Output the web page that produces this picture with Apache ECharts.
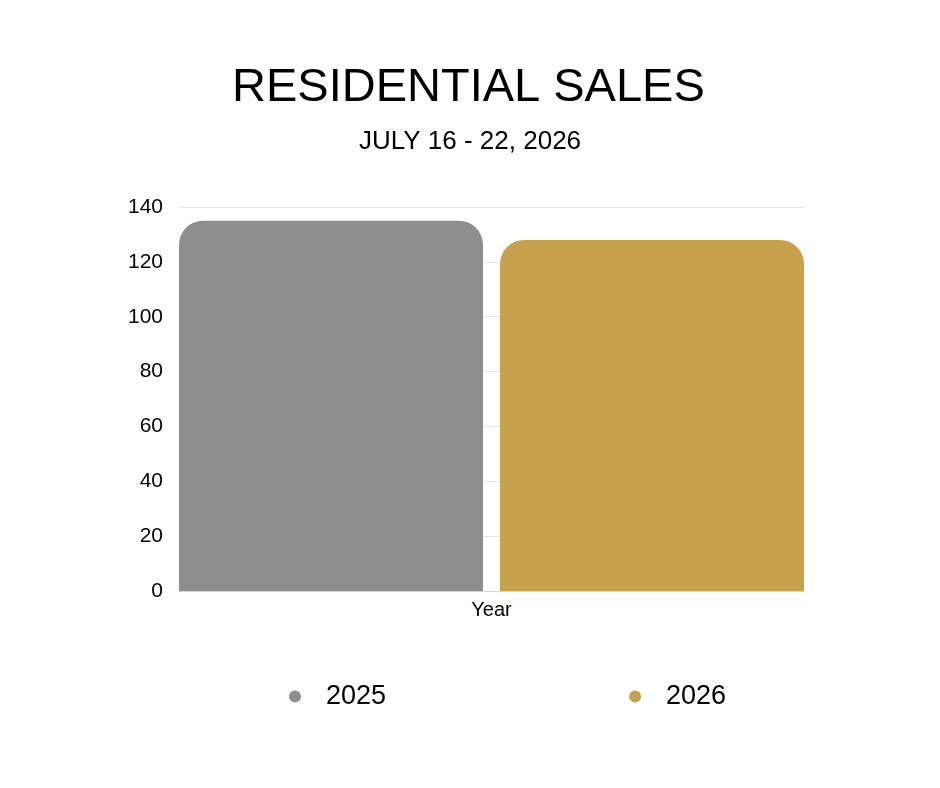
<!DOCTYPE html>
<html>
<head>
<meta charset="utf-8">
<script src="https://cdn.jsdelivr.net/npm/echarts@6/dist/echarts.min.js"></script>
<style>
  html, body { margin: 0; padding: 0; background: #fff; }
  #chart { width: 940px; height: 788px; }
</style>
</head>
<body>
<div id="chart"></div>
<script>
var categories = ["Year"];
var seriesNames = ["2025", "2026"];
var sales2025 = [135];
var sales2026 = [128];
var colors = ["#8e8e8e", "#c8a14c"];

var mychart = echarts.init(document.getElementById("chart"));
var font = "Liberation Sans";

var option = {
    backgroundColor: "#fff",
    title: [{
        text: "RESIDENTIAL SALES",
        left: 227,
        top: 60,
        textStyle: { fontFamily: font, fontSize: 47, fontWeight: "normal", color: "#000" }
    }, {
        text: "JULY 16 - 22, 2026",
        left: "center",
        top: 124,
        textStyle: { fontFamily: font, fontSize: 26, fontWeight: "normal", color: "#000" }
    }],
    grid: { left: 179, right: 136, top: 207, bottom: 197 },
    legend: {
        top: 678,
        left: 284,
        icon: "circle",
        itemWidth: 12,
        itemHeight: 12,
        itemGap: 243,
        textStyle: { fontFamily: font, fontSize: 27, color: "#000", padding: [0, 0, 0, 20] },
        data: seriesNames
    },
    xAxis: {
        type: "category",
        data: categories,
        axisTick: { show: false },
        axisLine: { lineStyle: { color: "#d4d4d4" } },
        axisLabel: { fontFamily: font, fontSize: 20, color: "#000", margin: 9 }
    },
    yAxis: {
        type: "value",
        min: 0,
        max: 140,
        interval: 20,
        axisLine: { show: false },
        axisTick: { show: false },
        axisLabel: { fontFamily: font, fontSize: 21, color: "#000", margin: 16 },
        splitLine: { lineStyle: { color: "#e3e3e3" } }
    },
    series: [{
        name: seriesNames[0],
        type: "bar",
        data: sales2025,
        barWidth: 304,
        barGap: "5.6%",
        itemStyle: { color: colors[0], borderRadius: [24, 24, 0, 0] }
    }, {
        name: seriesNames[1],
        type: "bar",
        data: sales2026,
        barWidth: 304,
        barGap: "5.6%",
        itemStyle: { color: colors[1], borderRadius: [24, 24, 0, 0] }
    }]
};
mychart.setOption(option);
</script>
</body>
</html>
